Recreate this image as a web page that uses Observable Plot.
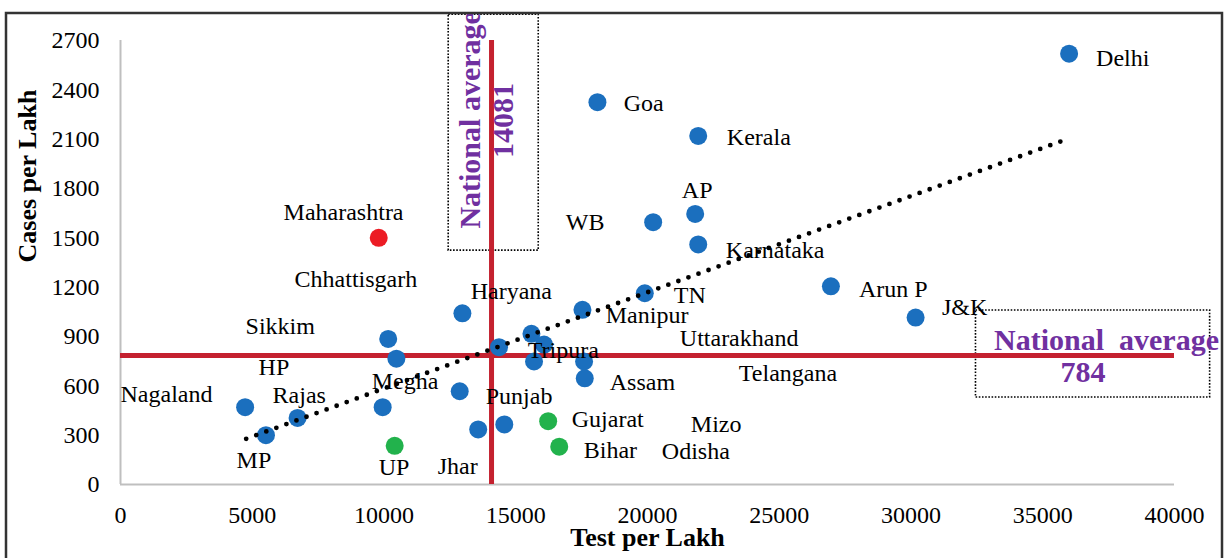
<!DOCTYPE html>
<html><head><meta charset="utf-8">
<script src="https://cdn.jsdelivr.net/npm/d3@7"></script>
<script src="https://cdn.jsdelivr.net/npm/@observablehq/plot@0.6"></script>
<style>
html,body{margin:0;padding:0;background:#fff;}
#chart svg{display:block;}
</style></head><body><div id="chart"></div>
<script>
// Points: tests per lakh vs cases per lakh
const testPerLakh  = [36000, 18100, 21925, 21810, 20215, 21925, 19897, 26960, 30175, 17532, 17593, 17619, 16074, 15694, 15595, 14365, 12975, 12873, 13575, 14565, 10160, 10470, 9950, 4730, 5520, 6720, 9800, 10405, 16230, 16650];
const casesPerLakh = [2620, 2325, 2120, 1645, 1595, 1460, 1163, 1205, 1015, 1062, 748, 646, 851, 748, 916, 835, 1041, 567, 335, 365, 885, 765, 470, 470, 300, 405, 1500, 235, 385, 230];
const pointGroup   = ["s","s","s","s","s","s","s","s","s","s","s","s","s","s","s","s","s","s","s","s","s","s","s","s","s","s","high","low","low","low"];

// State labels (as placed in the original chart)
const labelNames = ["Delhi","Goa","Kerala","AP","WB","Karnataka","TN","Arun P","J&K","Manipur","Uttarakhand","Telangana","Assam","Gujarat","Mizo","Bihar","Odisha","Chhattisgarh","Haryana","Sikkim","HP","Nagaland","Rajas","Megha","Punjab","Tripura","MP","UP","Jhar","Maharashtra"];
const labelTest  = [37023, 19100, 23011, 21302, 16898, 22973, 20999, 28023, 31175, 18416, 21226, 23467, 18568, 17125, 21644, 17581, 20543, 6607, 13290, 4747, 5240, 0, 5772, 9531, 13860, 15455, 4405, 9797, 12037, 6189];
const labelCases = [2590, 2316, 2109, 1787, 1593, 1422, 1150, 1185, 1076, 1028, 888, 675, 620, 395, 365, 207, 201, 1246, 1173, 960, 711, 547, 541, 626, 535, 815, 146, 103, 109, 1653];

// Axis ticks
const xTicks = [0, 5000, 10000, 15000, 20000, 25000, 30000, 35000, 40000];
const yTicks = [0, 300, 600, 900, 1200, 1500, 1800, 2100, 2400, 2700];

// National averages
const nationalTest = 14081;
const nationalCases = 784;

// Trend line end points
const trendTest  = [4770, 36000];
const trendCases = [278, 2105];

// Annotation boxes (data units)
const vBoxTest  = [12455, 15872];
const vBoxCases = [1422, 2857];
const hBoxTest  = [32466, 41352];
const hBoxCases = [529, 1058];

const BLUE = "#1B6FBE", RED_DOT = "#EC1C24", GREEN = "#22B24C", LINE_RED = "#C4212F", PURPLE = "#7030A0";
const SERIF = "'Liberation Serif','Times New Roman',serif";

const points = testPerLakh.map((x, i) => ({x, y: casesPerLakh[i], g: pointGroup[i]}));
const labels = labelNames.map((n, i) => ({n, x: labelTest[i], y: labelCases[i]}));
const trend = trendTest.map((x, i) => ({x, y: trendCases[i]}));
const vBox = [{x1: vBoxTest[0], x2: vBoxTest[1], y1: vBoxCases[0], y2: vBoxCases[1]}];
const hBox = [{x1: hBoxTest[0], x2: hBoxTest[1], y1: hBoxCases[0], y2: hBoxCases[1]}];

const chart = Plot.plot({
  width: 1225, height: 558,
  marginLeft: 120, marginRight: 51, marginTop: 40, marginBottom: 74,
  style: {fontFamily: SERIF, fontSize: "24px", color: "#000", background: "#fff", overflow: "visible"},
  x: {domain: [0, 40000], label: null},
  y: {domain: [0, 2700], label: null},
  color: {domain: ["s", "high", "low"], range: [BLUE, RED_DOT, GREEN]},
  marks: [
    Plot.axisX({ticks: xTicks, tickSize: 0, tickPadding: 21, tickFormat: d => String(d), fontSize: 24, label: null}),
    Plot.axisY({ticks: yTicks, tickSize: 0, tickPadding: 21, tickFormat: d => String(d), fontSize: 24, label: null}),
    Plot.ruleX([0], {stroke: "#BFBFBF", strokeWidth: 2}),
    Plot.ruleY([0], {stroke: "#BFBFBF", strokeWidth: 2}),
    Plot.rect(vBox, {x1: "x1", x2: "x2", y1: "y1", y2: "y2", fill: "none", stroke: "#000", strokeWidth: 1.6, strokeDasharray: "1.6 1.6"}),
    Plot.rect(hBox, {x1: "x1", x2: "x2", y1: "y1", y2: "y2", fill: "none", stroke: "#000", strokeWidth: 1.6, strokeDasharray: "1.6 1.6"}),
    Plot.ruleY([nationalCases], {stroke: LINE_RED, strokeWidth: 5}),
    Plot.ruleX([nationalTest], {stroke: LINE_RED, strokeWidth: 5}),
    Plot.dot(points, {x: "x", y: "y", r: 9, fill: "g", stroke: null}),
    Plot.line(trend, {x: "x", y: "y", stroke: "#000", strokeWidth: 4.8, strokeDasharray: "0 10.7", strokeLinecap: "round"}),
    Plot.text(labels, {x: "x", y: "y", text: "n", textAnchor: "start", fontSize: 24, fill: "#000"}),
    Plot.text(["National average"], {x: [13290], y: [1556], rotate: -90, textAnchor: "start", fontSize: 30, fontWeight: "bold", fill: PURPLE}),
    Plot.text([String(nationalTest)], {x: [14543], y: [2213], rotate: -90, fontSize: 30, fontWeight: "bold", fill: PURPLE}),
    Plot.text(["National  average"], {x: [33150], y: [875], textAnchor: "start", fontSize: 30, fontWeight: "bold", fill: PURPLE}),
    Plot.text([String(nationalCases)], {x: [36529], y: [681], fontSize: 30, fontWeight: "bold", fill: PURPLE}),
    Plot.text(["Test per Lakh"], {frameAnchor: "bottom", dy: 61, fontSize: 26, fontWeight: "bold", fill: "#000"}),
    Plot.text(["Cases per Lakh"], {frameAnchor: "left", dx: -93, rotate: -90, fontSize: 26, fontWeight: "bold", fill: "#000"})
  ]
});

d3.select(chart).append("rect")
  .attr("x", 6).attr("y", 13).attr("width", 1216).attr("height", 580)
  .attr("fill", "none").attr("stroke", "#333").attr("stroke-width", 2.5);

document.getElementById("chart").appendChild(chart);
</script>
</body></html>
